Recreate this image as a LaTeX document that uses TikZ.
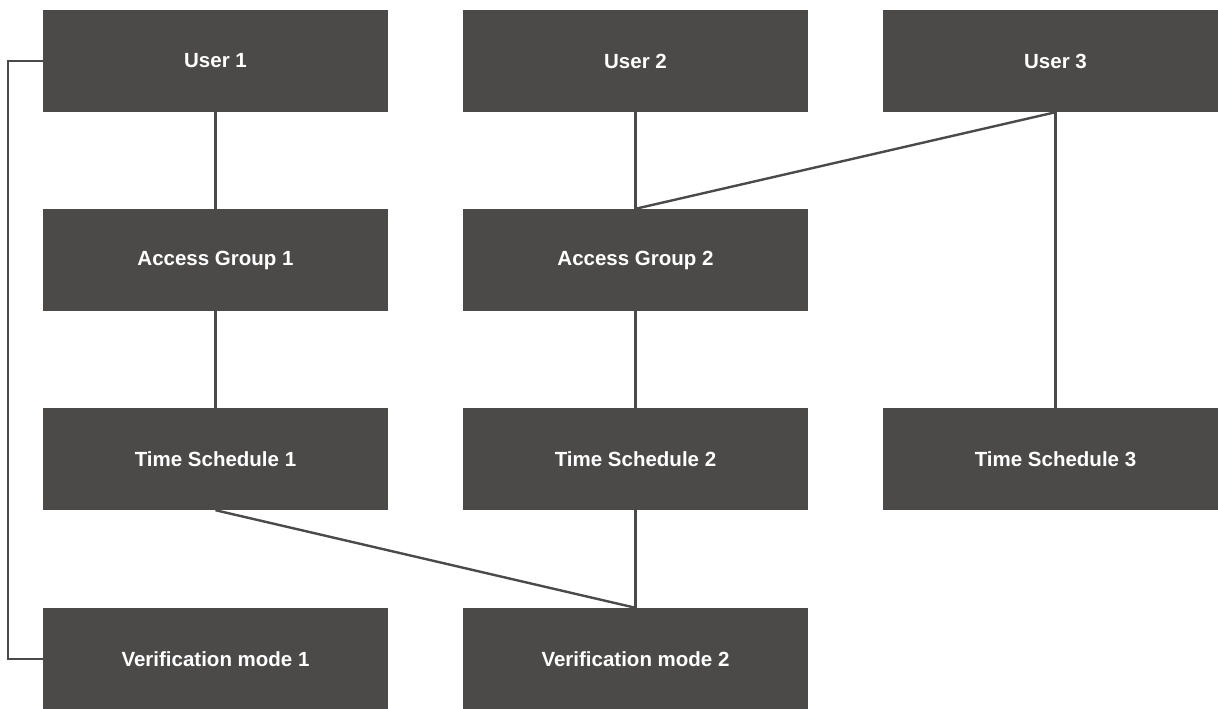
\documentclass[tikz,border=0pt]{standalone}
\usepackage{fontspec}
\setmainfont{Liberation Sans}
\definecolor{boxfill}{HTML}{4B4A48}
\definecolor{linecol}{HTML}{4A4A4A}
\begin{document}
\begin{tikzpicture}[x=1pt,y=-1pt,
  box/.style={rectangle, fill=boxfill, draw=none, minimum width=345pt, minimum height=102pt, inner sep=0pt, text=white, font=\fontsize{20.5}{24}\selectfont\bfseries},
  conn/.style={draw=linecol, line width=2.4pt}]
\useasboundingbox (0,0) rectangle (1218,709);
\node[box] (u1) at (215.5,61) {User 1};
\node[box] (u2) at (635.5,61) {User 2};
\node[box] (u3) at (1055.5,61) {User 3};
\node[box] (ag1) at (215.5,260) {Access Group 1};
\node[box] (ag2) at (635.5,260) {Access Group 2};
\node[box] (ts1) at (215.5,459) {Time Schedule 1};
\node[box] (ts2) at (635.5,459) {Time Schedule 2};
\node[box] (ts3) at (1055.5,459) {Time Schedule 3};
\node[box] (vm1) at (215.5,659) {Verification mode 1};
\node[box] (vm2) at (635.5,659) {Verification mode 2};
\coordinate (bl1) at (8,61);
\coordinate (bl2) at (8,659);
\draw[conn] (u1.west) -- (bl1) -- (bl2) -- (vm1.west);
\draw[conn] (u1.south) -- (ag1.north);
\draw[conn] (u2.south) -- (ag2.north);
\draw[conn] (ag2.north) -- (u3.south);
\draw[conn] (u3.south) -- (ts3.north);
\draw[conn] (ag1.south) -- (ts1.north);
\draw[conn] (ag2.south) -- (ts2.north);
\draw[conn] (ts1.south) -- (vm2.north);
\draw[conn] (ts2.south) -- (vm2.north);
\end{tikzpicture}
\end{document}
